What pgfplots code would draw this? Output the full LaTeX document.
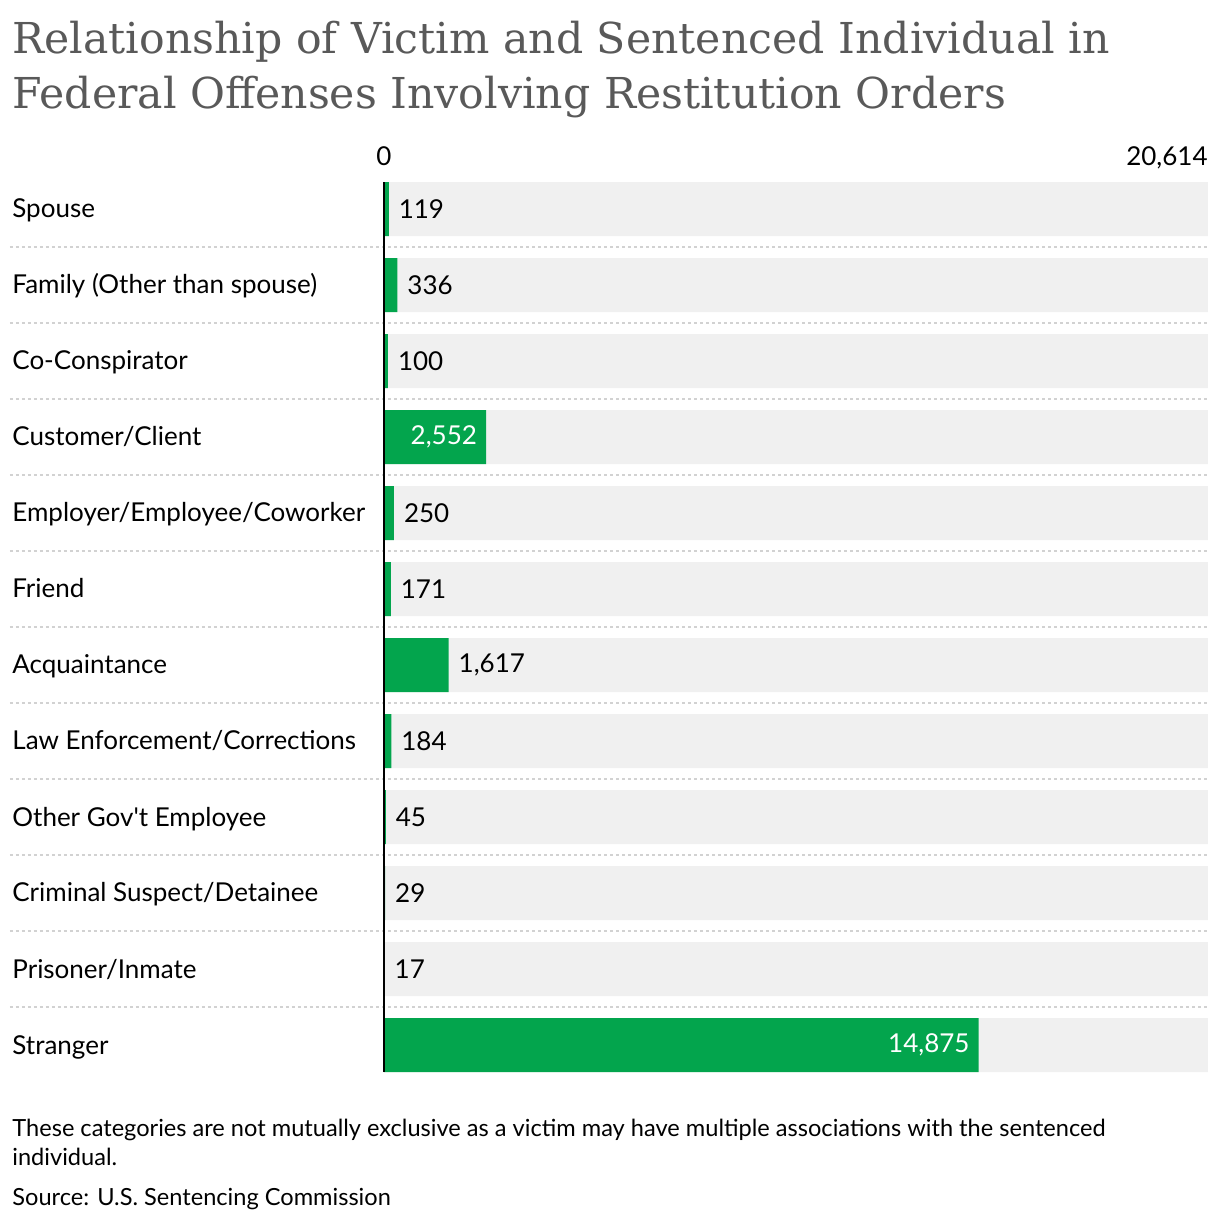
\documentclass[border=0pt]{standalone}
\usepackage{pgfplots}
\pgfplotsset{compat=1.18}
\usepackage{fontspec}
\setmainfont{Lato}
\newfontfamily\titlefont{DejaVu Serif}
\definecolor{barg}{HTML}{03A54D}
\definecolor{bgbar}{HTML}{F0F0F0}
\definecolor{sepc}{HTML}{D2D2D2}
\definecolor{titlec}{HTML}{595959}
\begin{document}
\begin{tikzpicture}
\useasboundingbox (-192pt,-75pt) rectangle (418pt,536pt);
\begin{axis}[
  at={(0,0)}, anchor=south west,
  scale only axis, width=412pt, height=445pt,
  xmin=0, xmax=20614, ymin=-0.355263, ymax=11.355263, y dir=reverse,
  axis lines=none, xtick=\empty, ytick=\empty,
  xbar, bar width=27pt, bar shift=0pt,
  clip=false,
  /pgf/number format/.cd, fixed, precision=0, 1000 sep={,}, assume math mode=true,
]
\addplot[fill=bgbar, draw=none] coordinates {
(20614,0) (20614,1) (20614,2) (20614,3) (20614,4) (20614,5)
(20614,6) (20614,7) (20614,8) (20614,9) (20614,10) (20614,11)};
\addplot[fill=barg, draw=none,
  nodes near coords,
  nodes near coords style={anchor=west, xshift=1.5pt, font=\fontsize{13pt}{15pt}\selectfont, text=black}]
  coordinates {
(119,0) (336,1) (100,2) (250,4) (171,5) (1617,6) (184,7) (45,8) (29,9) (17,10)};
\addplot[fill=barg, draw=none,
  nodes near coords,
  nodes near coords style={anchor=east, xshift=-1pt, font=\fontsize{13pt}{15pt}\selectfont, text=white}]
  coordinates {(2552,3) (14875,11)};
\end{axis}
% separators
\foreach \k in {0,...,10}
  \draw[sepc, line width=1pt, dash pattern=on 1.5pt off 1.5pt] (-187pt,{412.5pt-38pt*\k}) -- (412pt,{412.5pt-38pt*\k});
% zero axis line
\draw[black, line width=1pt] (0,0) -- (0,445pt);
% category labels
\foreach \name [count=\k from 0] in {Spouse, Family (Other than spouse), Co-Conspirator, Customer/Client, Employer/Employee/Coworker, Friend, Acquaintance, Law Enforcement/Corrections, Other Gov\textquotesingle t Employee, Criminal Suspect/Detainee, Prisoner/Inmate, Stranger}
  \node[anchor=base west, inner sep=0pt, font=\fontsize{13pt}{15pt}\selectfont] at (-186pt,{427pt-38pt*\k}) {\name};
% scale labels
\node[anchor=base, inner sep=0pt, font=\fontsize{13pt}{15pt}\selectfont] at (0pt,453pt) {0};
\node[anchor=base east, inner sep=0pt, font=\fontsize{13pt}{15pt}\selectfont] at (412pt,453pt) {20,614};
% title
\node[anchor=base west, inner sep=0pt, text=titlec, font=\titlefont\fontsize{21.3pt}{25pt}\selectfont] at (-186pt,509pt) {Relationship of Victim and Sentenced Individual in};
\node[anchor=base west, inner sep=0pt, text=titlec, font=\titlefont\fontsize{21.3pt}{25pt}\selectfont] at (-186pt,481.5pt) {Federal Offenses Involving Restitution Orders};
% notes
\node[anchor=base west, inner sep=0pt, font=\fontsize{11.8pt}{14pt}\selectfont] at (-186pt,-32pt) {These categories are not mutually exclusive as a victim may have multiple associations with the sentenced};
\node[anchor=base west, inner sep=0pt, font=\fontsize{11.8pt}{14pt}\selectfont] at (-186pt,-46.5pt) {individual.};
\node[anchor=base west, inner sep=0pt, font=\fontsize{11.8pt}{14pt}\selectfont] at (-186pt,-66.5pt) {Source: U.S. Sentencing Commission};
\end{tikzpicture}
\end{document}
